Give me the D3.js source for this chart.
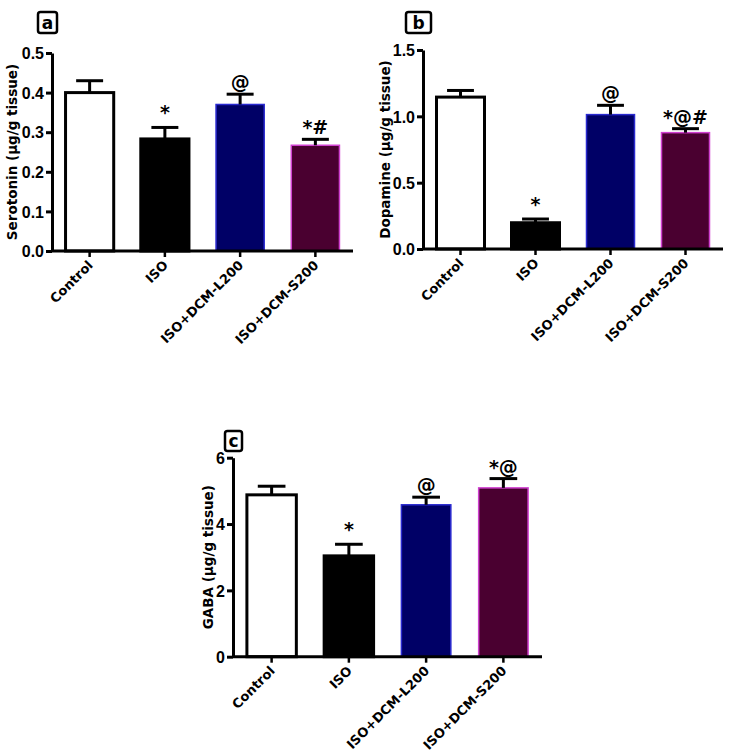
<!DOCTYPE html>
<html>
<head>
<meta charset="utf-8">
<script src="https://cdn.jsdelivr.net/npm/d3@7"></script>
<style>
body{margin:0;background:#fff;}
svg{display:block;}
text{font-family:"Liberation Sans",Arial,sans-serif;font-weight:bold;fill:#000;}
</style>
</head>
<body>
<svg id="chart" width="734" height="752"></svg>
<script>
const categories = ["Control", "ISO", "ISO+DCM-L200", "ISO+DCM-S200"];

const serotoninMean = [0.40, 0.283, 0.370, 0.267];
const serotoninErr  = [0.030, 0.029, 0.026, 0.015];
const serotoninSig  = ["", "*", "@", "*#"];
const serotoninTicks = [0, 0.1, 0.2, 0.3, 0.4, 0.5];

const dopamineMean = [1.145, 0.198, 1.013, 0.877];
const dopamineErr  = [0.050, 0.028, 0.070, 0.030];
const dopamineSig  = ["", "*", "@", "*@#"];
const dopamineTicks = [0, 0.5, 1.0, 1.5];

const gabaMean = [4.88, 3.04, 4.58, 5.09];
const gabaErr  = [0.26, 0.35, 0.23, 0.28];
const gabaSig  = ["", "*", "@", "*@"];
const gabaTicks = [0, 2, 4, 6];

const fills   = ["#ffffff", "#000000", "#000066", "#4a0030"];
const strokes = ["#000000", "#000000", "#2a2ad0", "#d040d0"];

const svg = d3.select("#chart");

function drawPanel(o){
  const g = svg.append("g");
  const y = d3.scaleLinear().domain(o.domain).range([o.y0, o.y1]);
  const x = d3.scaleBand().domain(categories).range([o.x0, o.x1]).paddingInner(0.36).paddingOuter(0.18);
  const bw = x.bandwidth();

  g.selectAll("rect.bar").data(o.mean).enter().append("rect")
    .attr("x", (d,i)=>x(categories[i]))
    .attr("y", d=>y(d))
    .attr("width", bw)
    .attr("height", d=>y(0)-y(d))
    .attr("fill", (d,i)=>fills[i])
    .attr("stroke", (d,i)=>strokes[i])
    .attr("stroke-width", (d,i)=> i<2 ? 3 : 1.5);

  const cap = bw*0.28;
  o.mean.forEach((m,i)=>{
    const cx = x(categories[i]) + bw/2;
    const top = y(m+o.err[i]);
    g.append("line").attr("x1",cx).attr("x2",cx).attr("y1",y(m)).attr("y2",top)
      .attr("stroke","#000").attr("stroke-width",3);
    g.append("line").attr("x1",cx-cap).attr("x2",cx+cap).attr("y1",top).attr("y2",top)
      .attr("stroke","#000").attr("stroke-width",3);
    if(o.sig[i]){
      g.append("text").attr("x",cx).attr("y",top - (o.sig[i]==="*" ? 8 : 5))
        .attr("text-anchor","middle")
        .style("font-family","'DejaVu Sans',sans-serif")
        .style("font-size", "19px")
        .style("font-weight","bold")
        .text(o.sig[i]);
    }
  });

  const yAxis = d3.axisLeft(y).tickValues(o.ticks).tickFormat(o.fmt).tickSize(6).tickSizeOuter(0);
  const ya = g.append("g").attr("transform",`translate(${o.x0},0)`).call(yAxis);
  ya.select(".domain").attr("stroke","#000").attr("stroke-width",3);
  ya.selectAll(".tick line").attr("stroke","#000").attr("stroke-width",3);
  ya.selectAll(".tick text").style("font-size","16px").style("font-family","'Liberation Sans',Arial,sans-serif")
    .style("font-weight","bold").attr("x",-8).attr("dy","0.36em");

  const xAxis = d3.axisBottom(x).tickSize(6).tickSizeOuter(0);
  const xa = g.append("g").attr("transform",`translate(0,${o.y0})`).call(xAxis);
  xa.select(".domain").attr("d",`M${o.x0},0H${o.x1}`).attr("stroke","#000").attr("stroke-width",3);
  xa.selectAll(".tick line").attr("stroke","#000").attr("stroke-width",2.5);
  xa.selectAll(".tick text")
    .style("font-size","13px")
    .style("font-family","'DejaVu Sans',sans-serif")
    .style("font-weight","bold")
    .attr("text-anchor","end")
    .attr("dy",0).attr("y",0)
    .attr("transform","translate(4,15) rotate(-45)");

  g.append("text")
    .attr("transform",`translate(${o.labelX},${(o.y0+o.y1)/2}) rotate(-90)`)
    .attr("text-anchor","middle").attr("dy","0.35em")
    .style("font-family","'DejaVu Sans',sans-serif")
    .style("font-size","13.5px")
    .text(o.label);

  g.append("rect").attr("x",o.box[0]).attr("y",o.box[1]).attr("width",o.box[2]).attr("height",o.box[3])
    .attr("rx",2.5).attr("fill","#fff").attr("stroke","#000").attr("stroke-width",2.5);
  g.append("text").attr("x",o.box[0]+o.box[2]/2).attr("y",o.box[1]+o.box[3]/2).attr("dy","0.36em")
    .attr("text-anchor","middle").style("font-family","'DejaVu Sans',sans-serif").style("font-size","17px").text(o.letter);
}

drawPanel({mean:serotoninMean, err:serotoninErr, sig:serotoninSig, ticks:serotoninTicks,
  domain:[0,0.5], fmt:d3.format(".1f"), x0:52, x1:353, y0:251, y1:53,
  label:"Serotonin (µg/g tissue)", labelX:12, letter:"a", box:[38,12,19,21]});

drawPanel({mean:dopamineMean, err:dopamineErr, sig:dopamineSig, ticks:dopamineTicks,
  domain:[0,1.5], fmt:d3.format(".1f"), x0:423, x1:723, y0:249, y1:50,
  label:"Dopamine (µg/g tissue)", labelX:385, letter:"b", box:[406,12,25,21]});

drawPanel({mean:gabaMean, err:gabaErr, sig:gabaSig, ticks:gabaTicks,
  domain:[0,6], fmt:d3.format("d"), x0:233, x1:542, y0:656.7, y1:457.7,
  label:"GABA (µg/g tissue)", labelX:208, letter:"c", box:[225,431,17,20]});
</script>
</body>
</html>
